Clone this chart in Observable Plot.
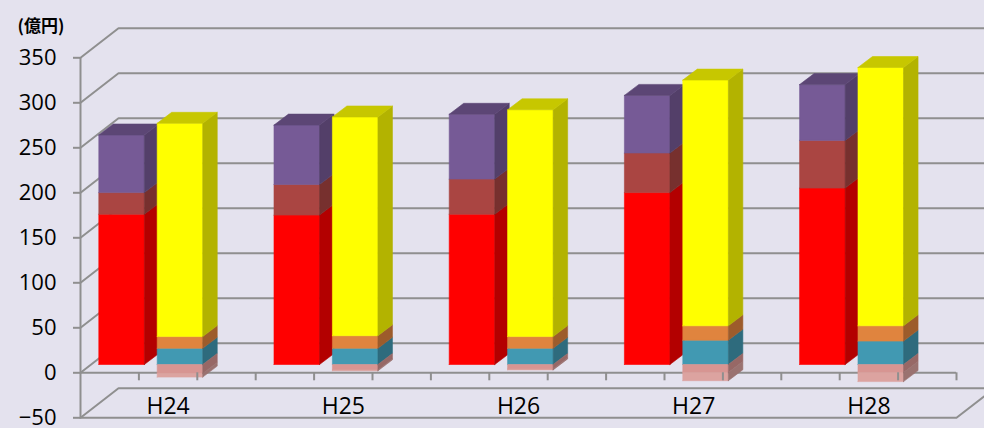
<!DOCTYPE html>
<html>
<head>
<meta charset="utf-8">
<script src="https://cdn.jsdelivr.net/npm/d3@7"></script>
<script src="https://cdn.jsdelivr.net/npm/@observablehq/plot@0.6"></script>
<style>
  html, body { margin: 0; padding: 0; background: #e4e2ee; }
  #chart { width: 984px; height: 428px; }
</style>
</head>
<body>
<div id="chart"></div>
<script>
// ---- data (億円) ----
const categories = ["H24", "H25", "H26", "H27", "H28"];
const yTicks = [-50, 0, 50, 100, 150, 200, 250, 300, 350];
const unitLabel = "(億円)";

// left bar of each year (bottom → top)
const barA_red    = [167, 166, 167, 191, 196];
const barA_brown  = [24, 34, 39, 44, 53];
const barA_purple = [64, 66, 72, 64, 62];

// right bar of each year (bottom → top), negatives stack downward
const barB_teal      = [18, 18, 18, 27, 26];
const barB_orange    = [13, 14, 13, 16, 17];
const barB_yellow    = [237, 243, 252, 273, 287];
const barB_pink      = [-10, -6, -5, -9, -9];
const barB_lightPink = [-4, -1, -1, -9, -10];

const colors = {
  red: "#ff0000", brown: "#aa4542", purple: "#765a96",
  teal: "#4199b2", orange: "#e0843e", yellow: "#ffff00",
  pink: "#d79592", lightPink: "#dca3a0"
};

// ---- layout ----
const W = 984, H = 428;
const mL = 80, mR = 28, mT = 57.3, mB = 10.7;
const nSlots = 15;                      // 3 slots per year: bar A, bar B, gap
const pxX = (W - mL - mR) / nSlots;
const pxY = (H - mT - mB) / (yTicks[yTicks.length - 1] - yTicks[0]);
const ux = px => px / pxX, uy = px => px / pxY;

const wallDX = ux(38), wallDY = uy(29.5);   // depth of the 3D box
const barOX = ux(10.7), barOY = uy(8.3);    // bar front face offset
const barDX = ux(14.5), barDY = uy(11);     // bar depth
const barL = 0.13, barR = 0.91;             // bar extent inside slot
const gray = "#8f8f8f";

// ---- build faces ----
const faces = [];
let fid = 0;
function poly(pts, color) {
  const id = fid++;
  for (const [x, y] of pts) faces.push({id, x, y, color});
  faces.push({id, x: pts[0][0], y: pts[0][1], color});
}
function shade(c, k) { return d3.color(c).darker(k).formatHex(); }
function drawBar(slot, segs) {
  const x1 = slot + barL + barOX, x2 = slot + barR + barOX;
  let pos = 0, neg = 0;
  const parts = [];
  for (const s of segs) {
    if (s.value >= 0) { parts.push({y1: pos, y2: pos + s.value, c: s.color}); pos += s.value; }
    else { parts.push({y1: neg + s.value, y2: neg, c: s.color}); neg += s.value; }
  }
  for (const p of parts) {
    poly([[x1, p.y1 + barOY], [x2, p.y1 + barOY], [x2, p.y2 + barOY], [x1, p.y2 + barOY]], p.c);
  }
  for (const p of parts) {
    poly([[x2, p.y1 + barOY], [x2 + barDX, p.y1 + barOY + barDY],
          [x2 + barDX, p.y2 + barOY + barDY], [x2, p.y2 + barOY]], shade(p.c, 1));
  }
  const topPart = parts.filter(p => p.y2 === pos).pop();
  if (topPart) {
    const t = pos + barOY;
    poly([[x1, t], [x2, t], [x2 + barDX, t + barDY], [x1 + barDX, t + barDY]], shade(topPart.c, 0.7));
  }
}
categories.forEach((c, i) => {
  drawBar(3 * i, [
    {value: barA_red[i], color: colors.red},
    {value: barA_brown[i], color: colors.brown},
    {value: barA_purple[i], color: colors.purple}
  ]);
  drawBar(3 * i + 1, [
    {value: barB_teal[i], color: colors.teal},
    {value: barB_orange[i], color: colors.orange},
    {value: barB_yellow[i], color: colors.yellow},
    {value: barB_pink[i], color: colors.pink},
    {value: barB_lightPink[i], color: colors.lightPink}
  ]);
});

// ---- walls / gridlines ----
const grid = [];
for (const v of yTicks) {
  grid.push({v, x: 0, y: v});
  grid.push({v, x: wallDX, y: v + wallDY});
  grid.push({v, x: nSlots + wallDX, y: v + wallDY});
}
const yMin = yTicks[0], yMax = yTicks[yTicks.length - 1];
const floorFront = [
  {x: 0, y: yMin}, {x: nSlots, y: yMin}, {x: nSlots + wallDX, y: yMin + wallDY}
];
const slotTicks = d3.range(1, nSlots + 1);

const chart = Plot.plot({
  width: W, height: H,
  marginLeft: mL, marginRight: mR, marginTop: mT, marginBottom: mB,
  x: {type: "linear", domain: [0, nSlots], axis: null},
  y: {type: "linear", domain: [yMin, yMax], axis: null},
  color: {type: "identity"},
  style: {background: "#e4e2ee", fontFamily: "'Open Sans', sans-serif", fontSize: "22px", color: "#000", overflow: "visible"},
  marks: [
    Plot.line(grid, {x: "x", y: "y", z: "v", stroke: gray, strokeWidth: 2}),
    Plot.line(floorFront, {x: "x", y: "y", stroke: gray, strokeWidth: 2}),
    Plot.ruleX([0], {y1: yMin, y2: yMax, stroke: gray, strokeWidth: 2}),
    Plot.ruleY([0], {x1: 0, x2: nSlots, stroke: gray, strokeWidth: 2}),
    Plot.line(faces, {x: "x", y: "y", z: "id", fill: "color", stroke: "color", strokeWidth: 0.6, curve: "linear"}),
    Plot.ruleX(slotTicks, {y1: 0, y2: -uy(8), stroke: gray, strokeWidth: 2}),
    Plot.axisY({ticks: yTicks, tickSize: 7, tickPadding: 17, stroke: gray, strokeWidth: 2, fill: "#000", label: null, fontSize: 22}),
    Plot.text(categories, {x: (d, i) => 3 * i + 1.5, y: () => -38, text: d => d, fontSize: 23, fill: "#000"}),
    Plot.text([unitLabel], {frameAnchor: "top-left", dx: -63, dy: -38, textAnchor: "start",
      fontWeight: "bold", fontSize: 17, fontFamily: "'Noto Sans CJK JP', sans-serif", fill: "#000"})
  ]
});
document.getElementById("chart").appendChild(chart);
</script>
</body>
</html>
